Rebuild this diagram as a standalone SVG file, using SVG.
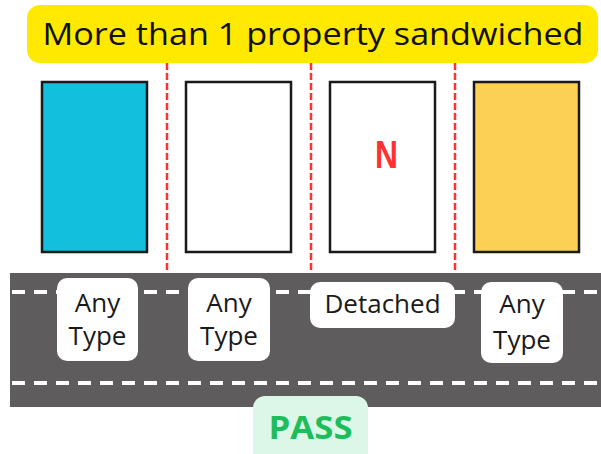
<svg xmlns="http://www.w3.org/2000/svg" width="601" height="454" viewBox="0 0 601 454">
<style>
.lot{stroke:#1a1a1a;stroke-width:2.5}
.sep{stroke:#ff3131;stroke-width:2.5;stroke-dasharray:7 3;fill:none}
.lane{stroke:#ffffff;stroke-width:4;stroke-dasharray:13 9;fill:none}
.card{fill:#ffffff}
.lbl{font-family:"Open Sans","Noto Sans",sans-serif;font-size:26px;fill:#1a1a1a;text-anchor:middle}
</style>
<rect x="0" y="0" width="601" height="454" fill="#ffffff"/>
<g id="banner">
<rect x="27" y="5" width="571" height="58" rx="13" fill="#ffe900"/>
<text x="313" y="45" font-family="'Open Sans','Noto Sans',sans-serif" font-size="31" fill="#111111" text-anchor="middle" textLength="541" lengthAdjust="spacingAndGlyphs">More than 1 property sandwiched</text>
</g>
<g id="connectors">
<line class="sep" x1="167" y1="63" x2="167" y2="273"/>
<line class="sep" x1="311" y1="63" x2="311" y2="273"/>
<line class="sep" x1="455" y1="63" x2="455" y2="273"/>
</g>
<g id="road">
<rect x="10" y="273" width="591" height="134" fill="#5e5c5d"/>
<line class="lane" x1="12" y1="292" x2="601" y2="292"/>
<line class="lane" x1="12" y1="383" x2="601" y2="383"/>
</g>
<g id="lot1"><rect class="lot" x="42" y="82" width="105" height="170" fill="#12c0de"/></g>
<g id="lot2"><rect class="lot" x="186" y="82" width="105" height="170" fill="#ffffff"/></g>
<g id="lot3"><rect class="lot" x="330" y="82" width="105" height="170" fill="#ffffff"/>
<text x="386.5" y="168" font-family="'Liberation Sans',Arial,sans-serif" font-weight="bold" font-size="38" fill="#ff3131" text-anchor="middle" textLength="23" lengthAdjust="spacingAndGlyphs">N</text></g>
<g id="lot4"><rect class="lot" x="474" y="82" width="105" height="170" fill="#fcd055"/></g>
<g id="label1"><rect class="card" x="57" y="278" width="81" height="83" rx="10"/>
<text class="lbl" x="97.5" y="312">Any</text><text class="lbl" x="97.5" y="345">Type</text></g>
<g id="label2"><rect class="card" x="188" y="278" width="82" height="83" rx="10"/>
<text class="lbl" x="229" y="312">Any</text><text class="lbl" x="229" y="345">Type</text></g>
<g id="label3"><rect class="card" x="310" y="282" width="145" height="46" rx="10"/>
<text class="lbl" x="382.5" y="313">Detached</text></g>
<g id="label4"><rect class="card" x="481" y="282" width="82" height="81" rx="10"/>
<text class="lbl" x="522" y="313">Any</text><text class="lbl" x="522" y="349">Type</text></g>
<g id="pass"><rect x="253" y="396" width="115" height="70" rx="12" fill="#dcf7e8"/>
<text x="310.5" y="439" font-family="'Open Sans','Noto Sans',sans-serif" font-weight="bold" font-size="32" fill="#1ebd5c" text-anchor="middle" textLength="84" lengthAdjust="spacingAndGlyphs">PASS</text></g>
</svg>
